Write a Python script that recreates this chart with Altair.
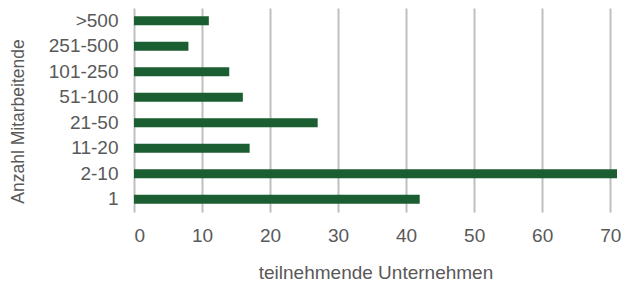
import altair as alt
import pandas as pd

categories = [">500", "251-500", "101-250", "51-100", "21-50", "11-20", "2-10", "1"]
values = [11, 8, 14, 16, 27, 17, 71, 42]
x_ticks = [0, 10, 20, 30, 40, 50, 60, 70]

df = pd.DataFrame({"cat": categories, "val": values})

FONT = "Liberation Sans"
GREY = "#595959"

chart = alt.Chart(df).mark_bar(color="#1b5e31", size=9).encode(
    x=alt.X("val:Q", scale=alt.Scale(domain=[0, 71], nice=False),
            axis=alt.Axis(values=x_ticks, title="teilnehmende Unternehmen",
                          grid=True, gridColor="#bfbfbf", gridWidth=2, domain=False,
                          ticks=False, labelPadding=14, labelFontSize=19, labelColor=GREY,
                          labelFont=FONT, titleFont=FONT, titleFontSize=19, titleFontWeight="normal",
                          titleColor=GREY, titlePadding=18)),
    y=alt.Y("cat:N", sort=categories,
            axis=alt.Axis(title="Anzahl Mitarbeitende", domain=False, ticks=False, grid=False,
                          labelPadding=16, labelFontSize=19, labelColor=GREY, labelFont=FONT,
                          titleFont=FONT, titleFontSize=17.5, titleFontWeight="normal",
                          titleColor=GREY, titleX=-107, titleY=113)),
).properties(
    width=483, height=204,
    autosize=alt.AutoSizeParams(type="none"),
    padding={"left": 126, "top": 0, "right": 4, "bottom": 70},
).configure_view(stroke=None)

chart.save("out.html", embed_options={"renderer": "svg", "actions": False})
